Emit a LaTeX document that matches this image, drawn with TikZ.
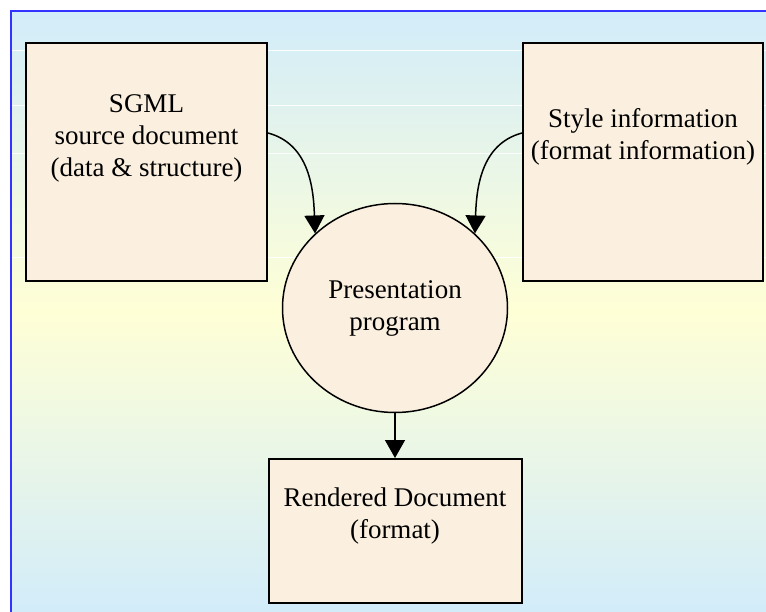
\documentclass[tikz,border=0pt]{standalone}
\usepackage{fontspec}
\setmainfont{Liberation Serif}
\usetikzlibrary{shapes.geometric,arrows.meta,positioning}
\definecolor{bgblue}{RGB}{210,236,250}
\definecolor{bgyellow}{RGB}{255,255,214}
\definecolor{frameblue}{RGB}{51,51,255}
\definecolor{paper}{RGB}{251,240,223}

\begin{document}
\begin{tikzpicture}[x=1pt,y=-1pt,on grid,
  docbox/.style={draw,line width=2pt,fill=paper,rectangle},
  boxtext/.style={align=center,font=\fontsize{27}{32}\selectfont},
  flow/.style={-{Triangle[width=20pt,length=18pt]},line width=1.5pt}]
	\useasboundingbox (0,0) rectangle (766,612);
	% slide background
	\shade[top color=bgblue,bottom color=bgblue,middle color=bgyellow] (11,11) rectangle (766,612);
	\foreach \y in {50,105,153,257}
	  \draw[white,line width=0.8pt] (11,\y) -- (766,\y);
	\draw[frameblue,line width=2pt] (11,612) -- (11,11) -- (766,11);

	\node[ellipse,draw,line width=1.5pt,fill=paper,minimum width=225pt,minimum height=209pt,boxtext] (prog) at (395,308) {Presentation\\program};
	 \node[docbox,minimum width=241pt,minimum height=238pt] (sgml) [above left=146pt and 248.5pt of prog] {};
	 \node[docbox,minimum width=240pt,minimum height=238pt] (style) [above right=146pt and 248pt of prog] {};
	 \node[docbox,minimum width=253pt,minimum height=144pt] (rendered) [below=223pt of prog] {};

	 \node[boxtext] (sgmltext) at ([yshift=24pt]sgml.center) {SGML\\source document\\(data \& structure)};
	 \node[boxtext] (styletext) at ([yshift=25pt]style.center) {Style information\\(format information)};
	 \node[boxtext] (renderedtext) at ([yshift=15pt]rendered.center) {Rendered Document\\(format)};

	  \draw[flow] ([yshift=29pt]sgml.east) to[out=-15,in=92] (prog.137);
	  \draw[flow] ([yshift=29pt]style.west) to[out=195,in=88] (prog.43);
	  \draw[flow] (prog) -- (rendered);
\end{tikzpicture}
\end{document}
